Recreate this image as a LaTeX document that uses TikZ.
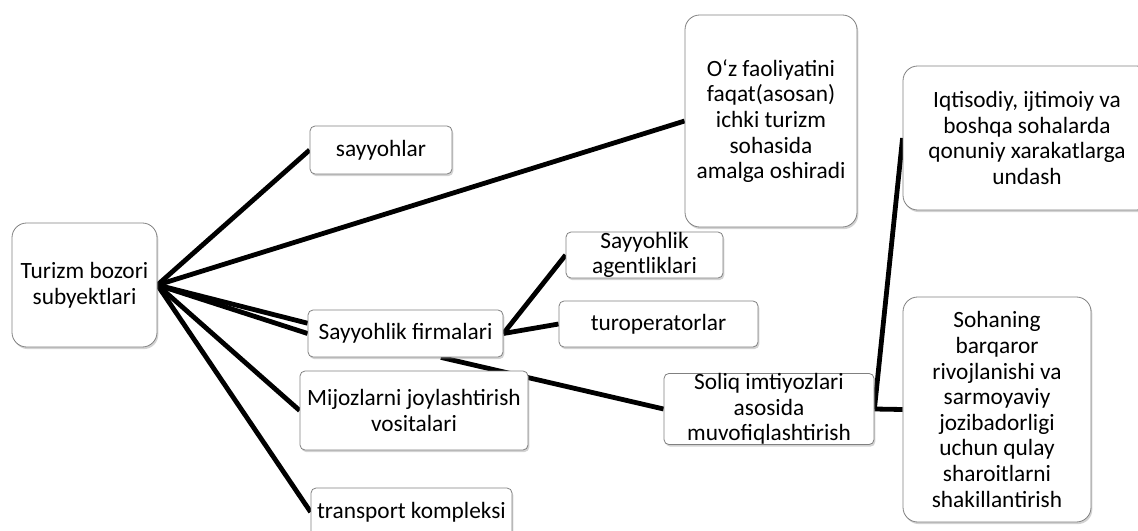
\documentclass[tikz,border=0pt]{standalone}
\usepackage{fontspec}
\setmainfont{Carlito}
\usetikzlibrary{shadows,backgrounds}

\tikzset{
  box/.style={draw=black!50, line width=0.6pt, fill=white, rounded corners=3.75pt,
    align=center, inner sep=0pt, font=\fontsize{17.5}{19.2}\selectfont,
    drop shadow={shadow xshift=1pt, shadow yshift=-1.6pt, opacity=0.35}},
  bigbox/.style={box, rounded corners=11pt},
  link/.style={line width=3.6pt}
}

\begin{document}
\begin{tikzpicture}[x=0.75pt,y=0.75pt,yscale=-1,xscale=1]
\useasboundingbox (0,0) rectangle (1138,531);

%Rounded Rect: root
\node [bigbox, minimum width=108.75pt, minimum height=93pt] (turizm) at (84.5,285) {Turizm bozori\\subyektlari};
%Rounded Rect: first level
\node [box, minimum width=106.5pt, minimum height=36pt] (sayyoh) at (381,150) {sayyohlar};
\node [bigbox, minimum width=129pt, minimum height=159pt] (ichki) at (771,121) {O‘z faoliyatini\\faqat(asosan)\\ichki turizm\\sohasida\\amalga oshiradi};
\node [box, minimum width=146.25pt, minimum height=35.25pt] (firma) at (405.5,333.5) {Sayyohlik firmalari};
\node [box, minimum width=171pt, minimum height=59.25pt] (mijoz) at (414,410.5) {Mijozlarni joylashtirish\\vositalari};
\node [box, minimum width=150.75pt, minimum height=36pt] (transport) at (411.5,512) {transport kompleksi};
%Rounded Rect: second level
\node [box, minimum width=117.75pt, minimum height=34.5pt] (agent) at (644.5,255) {Sayyohlik\\agentliklari};
\node [box, minimum width=149.25pt, minimum height=34.5pt] (turop) at (658.5,324) {turoperatorlar};
\node [box, minimum width=157.5pt, minimum height=52.5pt] (soliq) at (769,409) {Soliq imtiyozlari\\asosida\\muvofiqlashtirish};
%Rounded Rect: third level
\node [bigbox, minimum width=186pt, minimum height=108pt] (iqtisod) at (1027,138) {Iqtisodiy, ijtimoiy va\\boshqa sohalarda\\qonuniy xarakatlarga\\undash};
\node [bigbox, minimum width=141pt, minimum height=168.75pt] (sohan) at (997,409.5) {Sohaning\\barqaror\\rivojlanishi va\\sarmoyaviy\\jozibadorligi\\uchun qulay\\sharoitlarni\\shakillantirish};

%Straight Lines
\begin{scope}[on background layer]
\draw [link] (turizm.east) -- (sayyoh.west);
\draw [link] (turizm.east) -- (ichki.west);
\draw [link] (turizm.east) -- (firma.174);
\draw [link] (turizm.east) -- (firma.west);
\draw [link] (turizm.east) -- (mijoz.west);
\draw [link] (turizm.east) -- (transport.west);
\draw [link] (firma.east) -- (agent.west);
\draw [link] (firma.east) -- (turop.west);
\draw [link] (firma.-34) -- (soliq.west);
\draw [link] (soliq.east) -- (iqtisod.west);
\draw [link] (soliq.east) -- (sohan.west);
\end{scope}
\end{tikzpicture}
\end{document}
